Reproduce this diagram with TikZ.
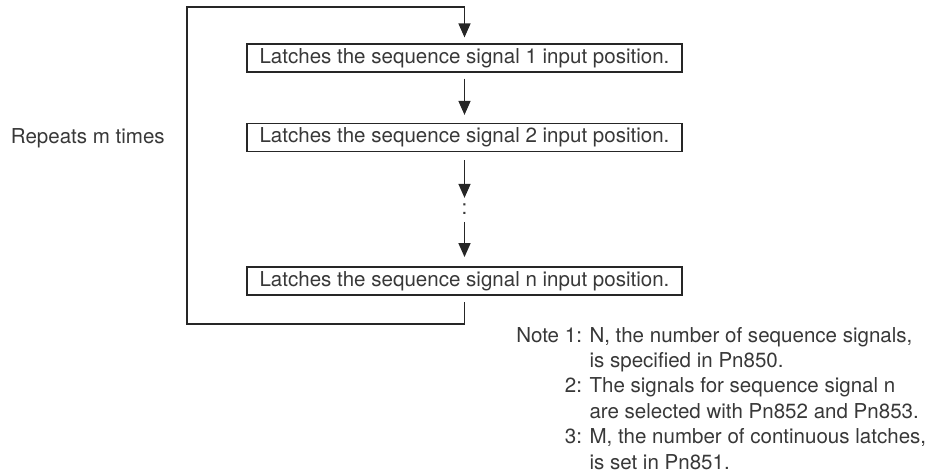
\documentclass[tikz,border=0pt]{standalone}
\usepackage{fontspec}
\setmainfont{TeX Gyre Heros}
\usetikzlibrary{arrows.meta}
\begin{document}
\begin{tikzpicture}[x=0.75pt,y=-0.75pt,
  line/.style={draw=black!85, line width=1.1pt, line join=miter},
  arr/.style={line, -{Triangle[length=10.5pt,width=9pt]}},
  txt/.style={text=black!78, font=\fontsize{15.4}{19.1}\selectfont},
  stepbox/.style={txt, draw=black!85, line width=0.9pt, minimum width=326.25pt,
    minimum height=21pt, inner sep=0pt}]
\useasboundingbox (0,0) rectangle (938,474);
\node[stepbox] (b1) at (464.5,58) {Latches the sequence signal 1 input position.};
\node[stepbox] (b2) at (464.5,137.5) {Latches the sequence signal 2 input position.};
\node[txt, inner sep=0pt] (dots) at (464.5,209.5) {:};
\node[stepbox] (bn) at (464.5,281) {Latches the sequence signal n input position.};
\coordinate (topL) at (187,7);
\coordinate (botL) at (187,324);
\draw[arr] ([yshift=-4.5pt]b1.south) -- ([yshift=6pt]b2.north);
\draw[arr] ([yshift=-6pt]b2.south) -- ([yshift=4.5pt]dots.north);
\draw[arr] ([yshift=-5pt]dots.south) -- ([yshift=7pt]bn.north);
\draw[arr] ([yshift=-5pt]bn.south) -- (bn.south |- botL) -- (botL) -- (topL)
  -- (b1.north |- topL) -- ([yshift=4.5pt]b1.north);
\node[txt, anchor=east, inner sep=0pt] (rep) at (165,138) {Repeats m times};
\node[txt, anchor=base west, inner sep=0pt] (notes) at (516,342)
  {\begin{tabular}[t]{@{}r@{ }l@{}}
   Note 1: & N, the number of sequence signals,\\
           & is specified in Pn850.\\
        2: & The signals for sequence signal n\\
           & are selected with Pn852 and Pn853.\\
        3: & M, the number of continuous latches,\\
           & is set in Pn851.
   \end{tabular}};
\end{tikzpicture}
\end{document}
